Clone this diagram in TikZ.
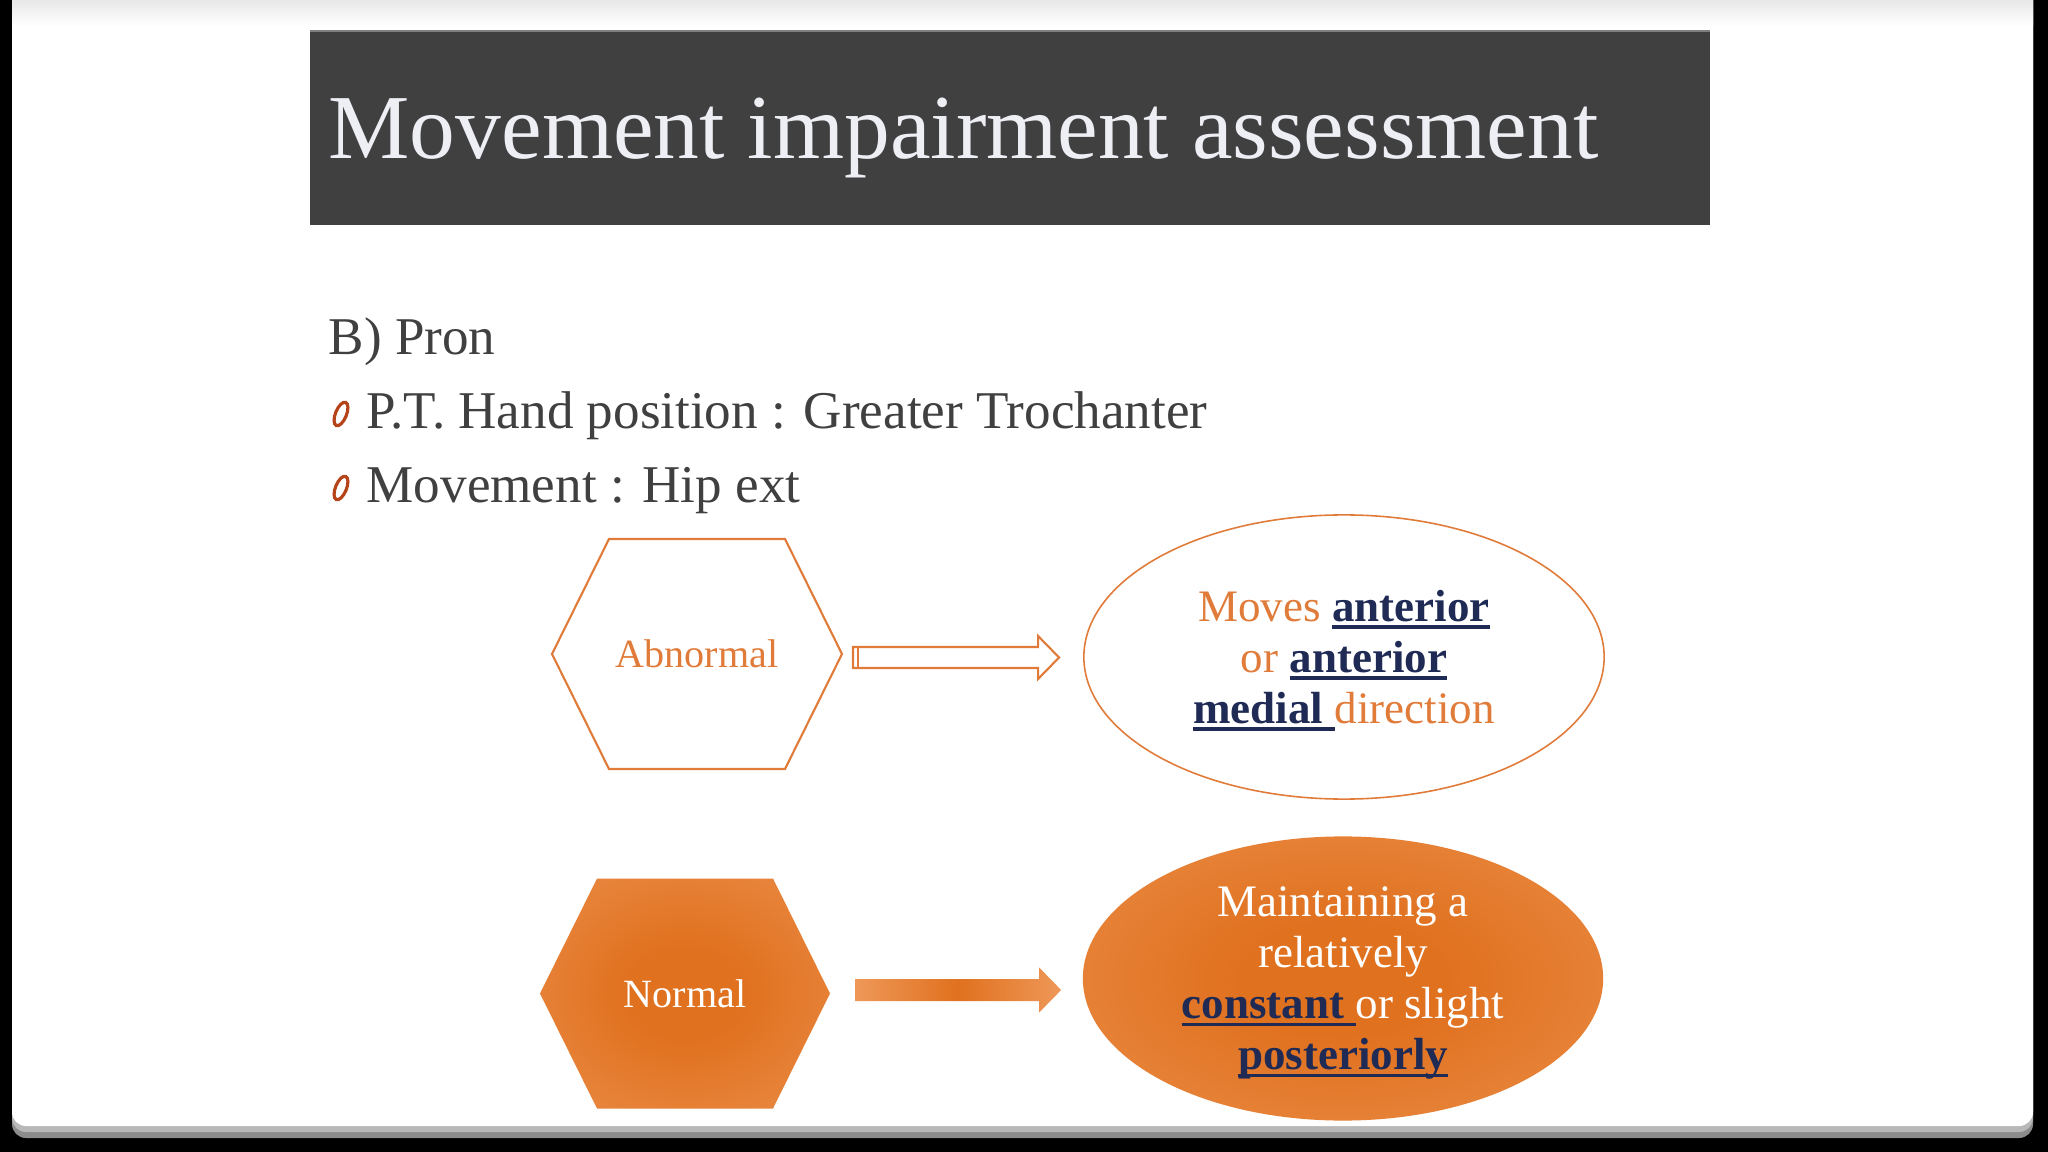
\documentclass[tikz,border=0pt]{standalone}
\usepackage{fontspec}
\setmainfont{Liberation Serif}
\usepackage{tikz}
\usetikzlibrary{calc,shapes.geometric}
\definecolor{SlideInk}{HTML}{404040}
\definecolor{SlideBar}{HTML}{404040}
\definecolor{SlideTitle}{HTML}{EDEFF5}
\definecolor{SlideOrange}{HTML}{E07B39}
\definecolor{SlideDeep}{HTML}{E0711F}
\definecolor{SlideSoft}{HTML}{EE9858}
\definecolor{SlideNavy}{HTML}{1F2A55}
\definecolor{SlideBullet}{HTML}{B5441B}
\pgfdeclareradialshading{SlideGlow}{\pgfpoint{0bp}{0bp}}{color(0bp)=(SlideDeep); color(10bp)=(SlideDeep); color(48bp)=(SlideSoft); color(80bp)=(SlideSoft)}

\newsavebox\ulbox
\newcommand\ulword[1]{\sbox\ulbox{#1}\rlap{\smash{\rule[-2pt]{\wd\ulbox}{0.9pt}}}\usebox\ulbox}
% flat-topped hexagon round a named point
\newcommand\hexpath[2]{\path[#2] ($(#1)+(-88,-115)$) -- ($(#1)+(88,-115)$) -- ($(#1)+(145,0)$)
  -- ($(#1)+(88,115)$) -- ($(#1)+(-88,115)$) -- ($(#1)+(-145,0)$) -- cycle;}
% block arrow: style, tail, tip, shaft half, head half, head length
\newcommand\blockarrow[6]{\path[#1] ($(#2)+(0,-#4)$) -- ($(#3)+(-#6,-#4)$) -- ($(#3)+(-#6,-#5)$) -- (#3)
  -- ($(#3)+(-#6,#5)$) -- ($(#3)+(-#6,#4)$) -- ($(#2)+(0,#4)$) -- cycle;}

\begin{document}
\begin{tikzpicture}[x=0.01cm,y=-0.01cm,
    body/.style={anchor=base west, inner sep=0pt, text=SlideInk, font=\fontsize{15.1}{18}\selectfont},
    hexlabel/.style={font=\fontsize{11.4}{13}\selectfont},
    oval/.style={ellipse, minimum width=5.2cm, minimum height=2.84cm, inner sep=0pt, align=center,
      text depth=0pt, font=\fontsize{12.8}{14.5}\selectfont}]
    \useasboundingbox (0,0) rectangle (2048,1152);
    % slide sheet
    \fill[black] (0,0) rectangle (2048,1152);
    \fill[black!45, rounded corners=0.14cm] (12,-30) rectangle (2033,1138);
    \fill[black!28, rounded corners=0.14cm] (12,-30) rectangle (2033,1132);
    \fill[white, rounded corners=0.14cm] (12,-30) rectangle (2033,1126);
    \shade[top color=black!9, bottom color=white] (12,0) rectangle (2033,26);

    % title bar
    \fill[SlideBar] (310,31) rectangle (1710,225);
    \draw[black!50, line width=0.4pt] (310,31) -- (1710,31);
    \node[anchor=base west, inner sep=0pt, text=SlideTitle, font=\fontsize{26}{30}\selectfont] (title) at (328,159)
      {Movement impairment assessment};

    % text lines
    \node[body] (part) at (328,355) {B) Pron};
    \node[body] (hand) at (366,429) {P.T. Hand position : Greater Trochanter};
    \node[body] (move) at (366,503) {Movement : Hip ext};
    \draw[SlideBullet, line width=0.9pt] ($(hand.base west)+(-25,-15)$) ellipse [x radius=5.5, y radius=12.5, rotate=-22];
    \draw[SlideBullet, line width=0.9pt] ($(move.base west)+(-25,-15)$) ellipse [x radius=5.5, y radius=12.5, rotate=-22];

    % abnormal row
    \coordinate (abnc) at (697,654);
    \hexpath{abnc}{draw=SlideOrange, line width=0.6pt}
    \node[hexlabel, text=SlideOrange] (abn) at (abnc) {Abnormal};
    \node[oval, draw=SlideOrange, line width=0.45pt, text=SlideOrange] (mov) at (1344,657)
      {Moves \textcolor{SlideNavy}{\ulword{\textbf{anterior}}}\\
       or \textcolor{SlideNavy}{\ulword{\textbf{anterior}}}\\
       \textcolor{SlideNavy}{\ulword{\textbf{medial}\ }}direction};
    \coordinate (tailA) at ($(abnc)+(156,3.5)$);
    \coordinate (tipA) at ($(mov.west)+(-24,0.5)$);
    \blockarrow{draw=SlideOrange, fill=white, line width=0.6pt}{tailA}{tipA}{10.5}{21.5}{21}
    \draw[SlideOrange, line width=0.6pt] ($(tailA)+(5,-10.5)$) -- ($(tailA)+(5,10.5)$);

    % normal row
    \coordinate (norc) at (685,993.5);
    \hexpath{norc}{shade, shading=SlideGlow}
    \node[hexlabel, text=white] (nor) at (norc) {Normal};
    \node[oval, shade, shading=SlideGlow, text=white] (keep) at (1343,978.5)
      {Maintaining a\\
       relatively\\
       \textcolor{SlideNavy}{\ulword{\textbf{constant}\ }}or slight\\
       \textcolor{SlideNavy}{\ulword{\textbf{posteriorly}}}};
    \coordinate (tailB) at ($(norc)+(170,-3.5)$);
    \coordinate (tipB) at ($(keep.west)+(-21,11.5)$);
    \blockarrow{left color=SlideSoft, right color=SlideSoft, middle color=SlideDeep}{tailB}{tipB}{11}{22.5}{22}
  \end{tikzpicture}
\end{document}
